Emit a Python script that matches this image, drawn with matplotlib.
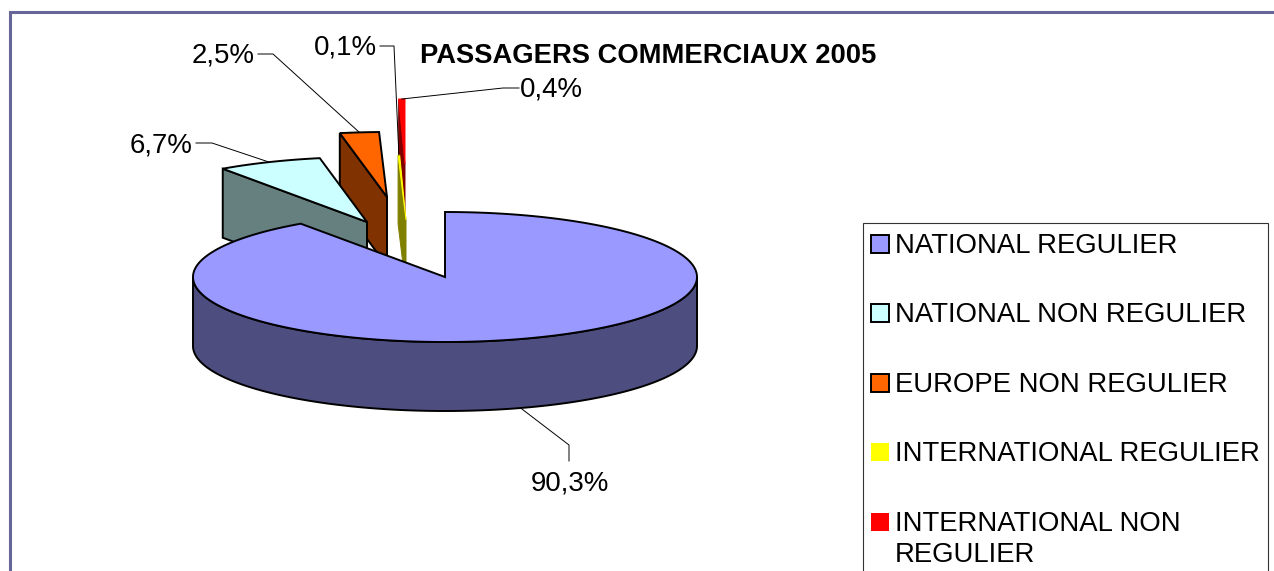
import numpy as np
import matplotlib
matplotlib.use("Agg")
import matplotlib.pyplot as plt
from matplotlib.patches import Polygon, Rectangle

plt.rcParams['font.family'] = ['Liberation Sans', 'DejaVu Sans']

# data
categories = ["NATIONAL REGULIER", "NATIONAL NON REGULIER", "EUROPE NON REGULIER",
              "INTERNATIONAL REGULIER", "INTERNATIONAL NON\nREGULIER"]
values = [90.3, 6.7, 2.5, 0.1, 0.4]
value_labels = ["90,3%", "6,7%", "2,5%", "0,1%", "0,4%"]
title = "PASSAGERS COMMERCIAUX 2005"

top_colors = ["#9999FF", "#CCFFFF", "#FF6600", "#FFFF00", "#FF0000"]
side_colors = ["#4D4D80", "#668080", "#803300", "#808000", "#800000"]
has_edge = [True, True, True, False, False]

# pie geometry, in pixels
rx, ry, depth = 252, 65, 69
tips = [(445, 277), (367, 222), (387, 197), (406, 220), (405, 164)]
label_pos = [(570, 483), (161, 145), (223, 55), (345, 47), (551, 89)]
elbows = [(569, 445, 569, 461), (212, 143, 196, 143), (273, 54, 258, 54),
          (394, 46, 380, 46), (503, 88, 519, 88)]
legend_y = [253, 322, 392, 461, 531]

W, H = 1274, 571
fig = plt.figure(figsize=(W / 100, H / 100), dpi=100)
ax = fig.add_axes([0, 0, 1, 1])
ax.set_xlim(0, W)
ax.set_ylim(H, 0)
ax.axis('off')

ax.add_patch(Rectangle((10, 11.5), W + 20, H + 20, fc='white', ec='#666699', lw=2.2, zorder=0))


def rim(cx, cy, a):
    # angles in degrees, clockwise from the top
    a = np.radians(a)
    return cx + rx * np.sin(a), cy - ry * np.cos(a)


edges = np.concatenate([[0], np.cumsum(values)]) * 3.6
LW = 1.4

# back slices first, the big one goes on top at the end
for i in [4, 3, 2, 1]:
    cx, cy = tips[i]
    x0, y0 = rim(cx, cy, edges[i])
    side = [(x0, y0), (cx, cy), (cx, cy + depth), (x0, y0 + depth)]
    t = np.linspace(edges[i], edges[i + 1], 40)
    xs, ys = rim(cx, cy, t)
    top = [(cx, cy)] + list(zip(xs, ys))
    # the two thin slices have no black outline, only their own colour
    side_ec = 'black' if has_edge[i] else side_colors[i]
    top_ec = 'black' if has_edge[i] else top_colors[i]
    lw = LW if has_edge[i] else 0.7
    ax.add_patch(Polygon(side, fc=side_colors[i], ec=side_ec, lw=lw, zorder=10 - i))
    ax.add_patch(Polygon(top, fc=top_colors[i], ec=top_ec, lw=lw, zorder=10 - i))

# main slice wall and top
cx, cy = tips[0]
t = np.linspace(90, 270, 200)
xs, ys = rim(cx, cy, t)
wall = list(zip(xs, ys)) + list(zip(xs[::-1], ys[::-1] + depth))
ax.add_patch(Polygon(wall, fc=side_colors[0], ec='black', lw=LW, zorder=11))
t = np.linspace(edges[0], edges[1], 400)
xs, ys = rim(cx, cy, t)
ax.add_patch(Polygon([(cx, cy)] + list(zip(xs, ys)), fc=top_colors[0], ec='black', lw=LW, zorder=12))

# leader lines and value labels
for i, lab in enumerate(value_labels):
    mid = (edges[i] + edges[i + 1]) / 2
    px, py = rim(tips[i][0], tips[i][1], mid)
    if i == 0:
        py += depth
    ex, ey, lx, ly = elbows[i]
    ax.plot([px, ex, lx], [py, ey, ly], color='black', lw=0.7, zorder=13)
    ax.text(label_pos[i][0], label_pos[i][1], lab, fontsize=19.9, ha='center', va='center', zorder=14)

ax.text(420, 56, title, fontsize=19.7, fontweight='bold', ha='left', va='center', zorder=14)

# legend
ax.add_patch(Rectangle((863, 223), 405, 400, fc='white', ec='#333333', lw=0.8, zorder=15))
for i, name in enumerate(categories):
    y = legend_y[i]
    ec = 'black' if has_edge[i] else 'none'
    ax.add_patch(Rectangle((871, y - 18), 18, 18, fc=top_colors[i], ec=ec, lw=LW, zorder=16))
    for k, line in enumerate(name.split("\n")):
        ax.text(895, y + 31 * k, line, fontsize=19.8, ha='left', va='baseline', zorder=16)

fig.savefig('out.png', dpi=100)
